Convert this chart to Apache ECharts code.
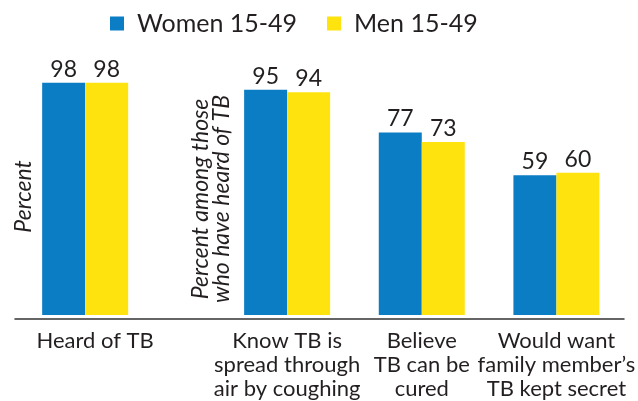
<!DOCTYPE html>
<html>
<head>
<meta charset="utf-8">
<script src="https://cdn.jsdelivr.net/npm/echarts@6/dist/echarts.min.js"></script>
<style>
  html, body { margin: 0; padding: 0; background: #fff; }
  #chart { width: 638px; height: 401px; }
</style>
</head>
<body>
<div id="chart"></div>
<script>
// data
const categories = [
  'Heard of TB',
  'Know TB is\nspread through\nair by coughing',
  'Believe\nTB can be\ncured',
  'Would want\nfamily member\u2019s\nTB kept secret'
]
const women = [98, 95, 77, 59]
const men = [98, 94, 73, 60]
const seriesNames = ['Women 15-49', 'Men 15-49']

// the groups are not evenly spaced, so put them in slots of a wider category axis
const slotOf = [0, 3, 5, 7]
const slotCount = 8
const axisCats = []
const womenSlots = []
const menSlots = []
for (let i = 0; i < slotCount; i++) {
  const k = slotOf.indexOf(i)
  if (k === 0) {
    // first label sits a bit right of its bars in the original
    axisCats.push({ value: categories[k], textStyle: { padding: [0, 0, 0, 20] } })
  } else {
    axisCats.push(k >= 0 ? categories[k] : '')
  }
  womenSlots.push(k >= 0 ? women[k] : null)
  menSlots.push(k >= 0 ? men[k] : null)
}

const textColor = '#231f20'
const font = 'Lato'

const legendText = { fontSize: 25, color: textColor, fontFamily: font, padding: [0, 0, 0, 8] }
const valueLabel = { show: true, position: 'top', distance: 2, fontSize: 23, color: textColor, fontFamily: font }

const option = {
  animation: false,
  textStyle: { fontFamily: font, color: textColor },
  color: ['#0a7dc4', '#ffe30f'],
  legend: [
    { data: [seriesNames[0]], left: 110, top: 11, padding: 0, itemWidth: 14, itemHeight: 14, icon: 'rect', textStyle: legendText },
    { data: [seriesNames[1]], left: 327, top: 11, padding: 0, itemWidth: 14, itemHeight: 14, icon: 'rect', textStyle: legendText }
  ],
  grid: [
    { left: 51.5, right: 44.5, top: 78, bottom: 82 },
    { left: 15, right: 14, top: 78, bottom: 82 }
  ],
  xAxis: [
    {
      type: 'category',
      gridIndex: 0,
      data: axisCats,
      axisLine: { show: false },
      axisTick: { show: false },
      axisLabel: {
        interval: 0,
        margin: 14,
        fontSize: 22,
        lineHeight: 24,
        color: textColor,
        fontFamily: font
      }
    },
    {
      type: 'value',
      gridIndex: 1,
      min: 0,
      max: 1,
      axisLine: { show: true, lineStyle: { color: '#333', width: 1.5 } },
      axisTick: { show: false },
      axisLabel: { show: false },
      splitLine: { show: false }
    }
  ],
  yAxis: [
    {
      type: 'value',
      gridIndex: 0,
      min: 0,
      max: 100,
      name: 'Percent',
      nameLocation: 'middle',
      nameRotate: 90,
      nameGap: 16,
      nameTextStyle: { fontSize: 23, fontStyle: 'italic', color: textColor, fontFamily: font },
      axisLine: { show: false },
      axisTick: { show: false },
      axisLabel: { show: false },
      splitLine: { show: false }
    },
    {
      type: 'value',
      gridIndex: 1,
      show: false
    }
  ],
  graphic: [
    {
      type: 'text',
      x: 211,
      y: 199,
      rotation: Math.PI / 2,
      style: {
        text: 'Percent among those\nwho have heard of TB',
        fontSize: 23,
        fontStyle: 'italic',
        fontFamily: font,
        lineHeight: 21,
        fill: textColor,
        align: 'center',
        verticalAlign: 'middle'
      }
    }
  ],
  series: [
    {
      name: seriesNames[0],
      type: 'bar',
      data: womenSlots,
      barWidth: 43,
      barGap: '0%',
      clip: false,
      label: valueLabel
    },
    {
      name: seriesNames[1],
      type: 'bar',
      data: menSlots,
      barWidth: 43,
      barGap: '0%',
      clip: false,
      label: valueLabel
    }
  ]
}

const chartObj = echarts.init(document.getElementById('chart'))
chartObj.setOption(option)
</script>
</body>
</html>
